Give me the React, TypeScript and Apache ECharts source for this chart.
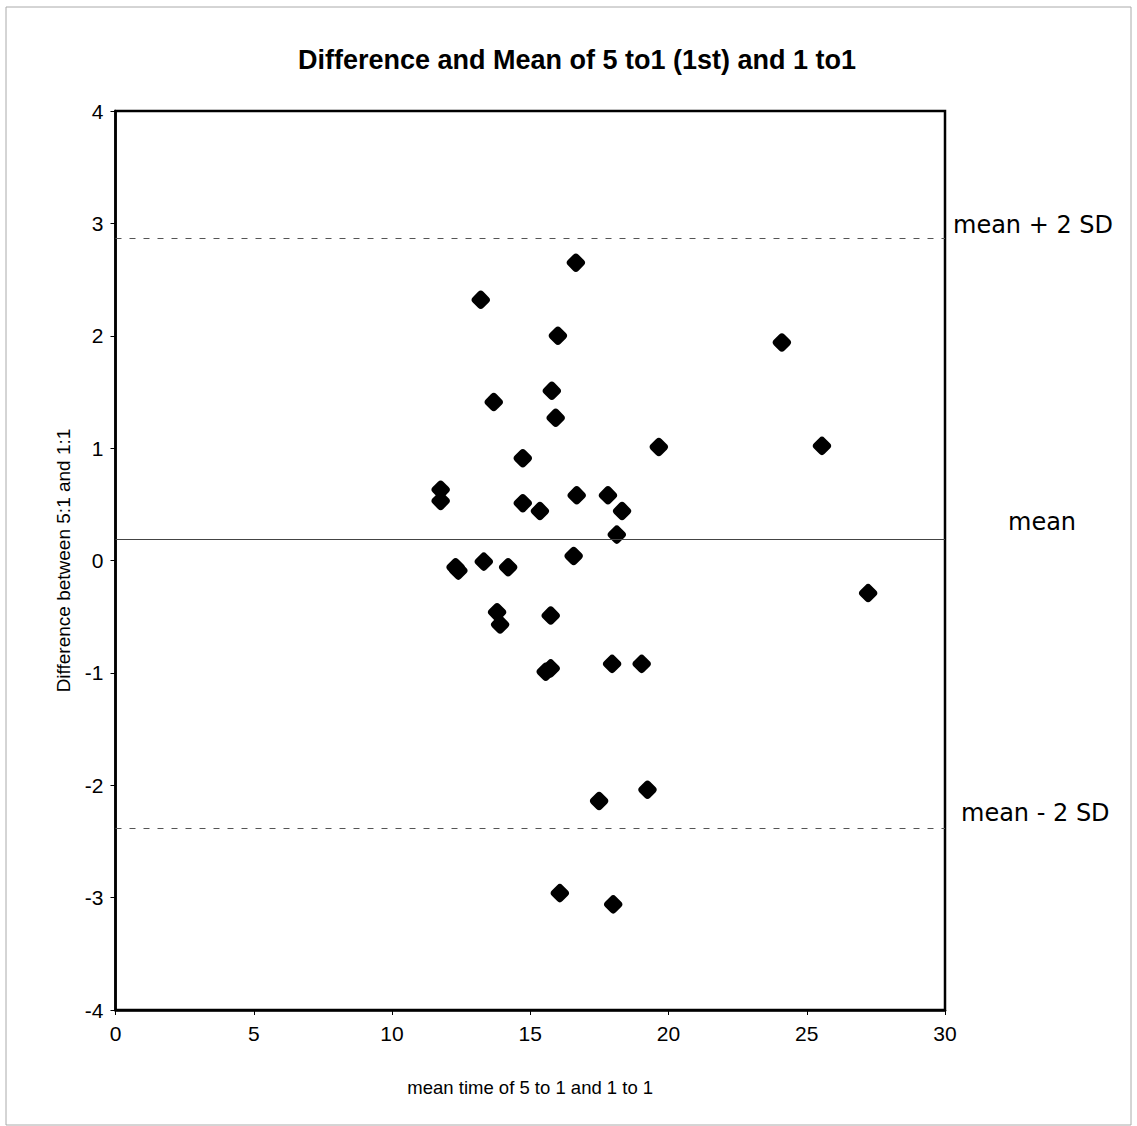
import React, { useEffect, useRef } from "react";
import * as echarts from "echarts";

const titleText = "Difference and Mean of 5 to1 (1st) and 1 to1";
const xAxisName = "mean time of 5 to 1 and 1 to 1";
const yAxisName = "Difference between 5:1 and 1:1";

const meanX: number[] = [
  16.65, 13.21, 16.0, 24.1, 15.78, 13.68, 15.92, 19.65, 25.55, 14.73,
  11.76, 11.76, 14.73, 15.35, 16.68, 17.81, 18.32, 18.13, 16.57, 12.3,
  12.4, 13.32, 14.2, 13.8, 13.91, 15.74, 15.56, 15.74, 17.96, 19.03,
  27.22, 17.49, 19.24, 16.07, 18.0,
];
const diffY: number[] = [
  2.65, 2.32, 2.0, 1.94, 1.51, 1.41, 1.27, 1.01, 1.02, 0.91,
  0.63, 0.53, 0.51, 0.44, 0.58, 0.58, 0.44, 0.23, 0.04, -0.06,
  -0.09, -0.01, -0.06, -0.46, -0.57, -0.49, -0.99, -0.96, -0.92, -0.92,
  -0.29, -2.14, -2.04, -2.96, -3.06,
];

const refValues = { upper: 2.87, mean: 0.19, lower: -2.38 };
const refLabels = ["mean + 2 SD", "mean", "mean - 2 SD"];

export default function App() {
  const ref = useRef<HTMLDivElement>(null);
  useEffect(() => {
    if (!ref.current) return;
    const chart = echarts.init(ref.current, undefined, { renderer: "svg" });
    const narrow = "'Liberation Sans Narrow', 'Liberation Sans', Arial, sans-serif";
    const sans = "'Liberation Sans', Arial, sans-serif";
    const wide = "'DejaVu Sans', 'Liberation Sans', Arial, sans-serif";
    const data = meanX.map((x, i) => [x, diffY[i]]);
    chart.setOption({
      animation: false,
      backgroundColor: "#ffffff",
      title: {
        text: titleText,
        left: 293,
        top: 41,
        textStyle: { fontFamily: sans, fontWeight: "bold", fontSize: 27, color: "#000" },
      },
      grid: {
        left: 115.5,
        top: 111,
        right: 192,
        bottom: 116,
        show: true,
        borderColor: "#000",
        borderWidth: 2.5,
        backgroundColor: "transparent",
      },
      xAxis: {
        type: "value",
        min: 0,
        max: 30,
        interval: 5,
        name: xAxisName,
        nameLocation: "middle",
        nameGap: 68,
        nameTextStyle: { fontFamily: narrow, fontSize: 18.5, color: "#000" },
        axisLine: { show: true, onZero: false, lineStyle: { color: "#000", width: 2.5 } },
        axisTick: { show: true, length: 5, lineStyle: { color: "#000", width: 1 } },
        axisLabel: { fontFamily: narrow, fontSize: 21, color: "#000", margin: 13 },
        splitLine: { show: false },
      },
      yAxis: {
        type: "value",
        min: -4,
        max: 4,
        interval: 1,
        name: yAxisName,
        nameLocation: "middle",
        nameGap: 43,
        nameRotate: 90,
        nameTextStyle: { fontFamily: narrow, fontSize: 19, color: "#000" },
        axisLine: { show: true, onZero: false, lineStyle: { color: "#000", width: 2.5 } },
        axisTick: { show: true, length: 5, lineStyle: { color: "#000", width: 1 } },
        axisLabel: { fontFamily: narrow, fontSize: 21, color: "#000", margin: 12 },
        splitLine: { show: false },
      },
      series: [
        {
          type: "scatter",
          data,
          symbol: "roundRect",
          symbolRotate: 45,
          symbolSize: 15,
          itemStyle: { color: "#000", opacity: 1 },
          markLine: {
            silent: true,
            symbol: "none",
            label: { show: false },
            data: [
              { yAxis: refValues.upper, lineStyle: { type: [6, 8], color: "#555", width: 1 } },
              { yAxis: refValues.mean, lineStyle: { type: "solid", color: "#444", width: 1 } },
              { yAxis: refValues.lower, lineStyle: { type: [6, 8], color: "#555", width: 1 } },
            ],
          },
        },
      ],
      graphic: [
        {
          type: "rect",
          shape: { x: 6, y: 7, width: 1125, height: 1118 },
          style: { fill: "none", stroke: "#aaa", lineWidth: 1 },
          silent: true,
        },
        {
          type: "text",
          left: 953,
          top: 224 - 11,
          style: { text: refLabels[0], fontFamily: wide, fontSize: 24, fill: "#000" },
        },
        {
          type: "text",
          left: 1008,
          top: 521 - 11,
          style: { text: refLabels[1], fontFamily: wide, fontSize: 24, fill: "#000" },
        },
        {
          type: "text",
          left: 961,
          top: 812 - 11,
          style: { text: refLabels[2], fontFamily: wide, fontSize: 24, fill: "#000" },
        },
      ],
    });
    return () => chart.dispose();
  }, []);
  return (
    <div
      ref={ref}
      style={{ position: "absolute", left: 0, top: 0, width: 1137, height: 1126 }}
    />
  );
}
